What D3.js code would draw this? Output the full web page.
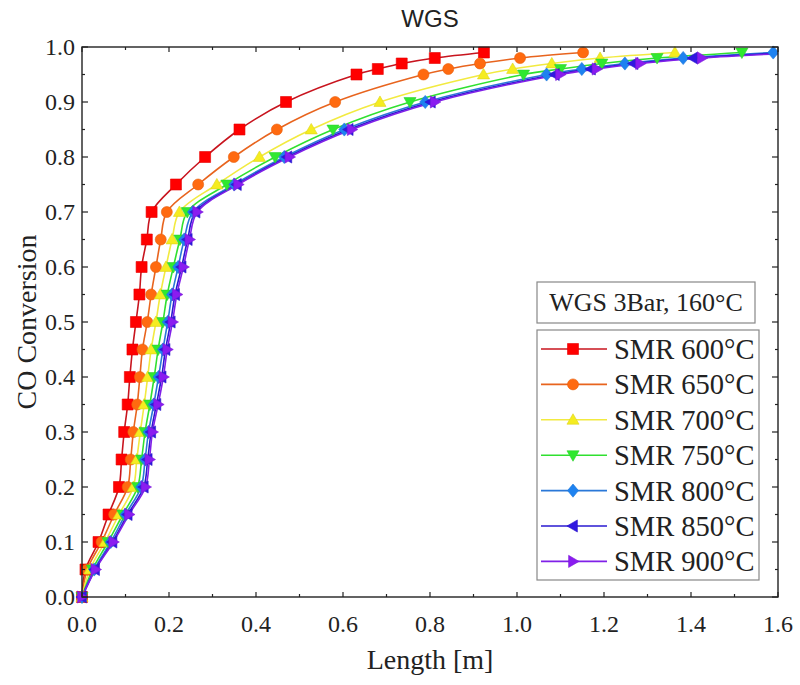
<!DOCTYPE html>
<html><head><meta charset="utf-8">
<script src="https://cdn.jsdelivr.net/npm/d3@7"></script>
<style>body{margin:0;background:#fff}svg{display:block}</style>
</head><body><svg id="c" width="800" height="685"></svg>
<script>
const conversion = [0,0.05,0.1,0.15,0.2,0.25,0.3,0.35,0.4,0.45,0.5,0.55,0.6,0.65,0.7,0.75,0.8,0.85,0.9,0.95,0.96,0.97,0.98,0.99];
const len600 = [0,0.008,0.038,0.061,0.085,0.091,0.097,0.105,0.110,0.116,0.124,0.132,0.137,0.149,0.160,0.216,0.283,0.362,0.469,0.631,0.680,0.735,0.811,0.924];
const len650 = [0,0.012,0.045,0.074,0.105,0.112,0.118,0.127,0.133,0.139,0.150,0.159,0.170,0.181,0.195,0.267,0.349,0.448,0.582,0.785,0.842,0.915,1.007,1.152];
const len700 = [0,0.018,0.053,0.085,0.118,0.126,0.134,0.143,0.151,0.159,0.170,0.180,0.193,0.207,0.224,0.310,0.408,0.527,0.685,0.923,0.990,1.080,1.191,1.363];
const len750 = [0,0.024,0.060,0.094,0.128,0.137,0.145,0.156,0.166,0.175,0.186,0.196,0.210,0.225,0.242,0.333,0.444,0.577,0.754,1.015,1.100,1.195,1.322,1.517];
const len800 = [0,0.028,0.066,0.100,0.136,0.145,0.153,0.165,0.176,0.186,0.197,0.207,0.221,0.235,0.255,0.350,0.465,0.603,0.789,1.068,1.149,1.248,1.382,1.589];
const len850 = [0,0.030,0.070,0.105,0.142,0.151,0.159,0.171,0.183,0.192,0.204,0.214,0.229,0.243,0.261,0.356,0.472,0.613,0.802,1.087,1.170,1.268,1.405,1.620];
const len900 = [0,0.031,0.072,0.108,0.146,0.155,0.162,0.175,0.187,0.196,0.208,0.218,0.233,0.247,0.265,0.359,0.477,0.620,0.811,1.099,1.183,1.283,1.425,1.660];
const seriesNames = ["SMR 600°C","SMR 650°C","SMR 700°C","SMR 750°C","SMR 800°C","SMR 850°C","SMR 900°C"];
const xTicks = [0,0.2,0.4,0.6,0.8,1.0,1.2,1.4,1.6];
const yTicks = [0,0.1,0.2,0.3,0.4,0.5,0.6,0.7,0.8,0.9,1.0];
const legendTitle = "WGS 3Bar, 160°C";

const lens = [len600,len650,len700,len750,len800,len850,len900];
const fills = ["#ff0000","#ff6a10","#f5ec20","#30e830","#1e82f0","#3018e0","#8a1cf0"];
const lines = ["#c8141e","#e8641e","#f2ea40","#30e030","#2a78d8","#2a1ad0","#8020e8"];
const shapes = ["square","circle","up","down","diamond","left","right"];

const svg = d3.select("#c");
const L=82, R=778, T=47, B=597;
const x = d3.scaleLinear().domain([0,1.6]).range([L,R]);
const y = d3.scaleLinear().domain([0,1]).range([B,T]);
const serif = "'Liberation Serif','Times New Roman',serif";

svg.append("defs").append("clipPath").attr("id","clip").append("rect")
  .attr("x",L-8).attr("y",T-8).attr("width",R-L+8).attr("height",B-T+16);

function markerPath(shape, s){
  const h=s/2;
  switch(shape){
    case "square": return `M${-h},${-h}H${h}V${h}H${-h}Z`;
    case "circle": return d3.symbol(d3.symbolCircle, Math.PI*h*h)();
    case "up": return `M0,${-h*1.1}L${h*1.1},${h*0.8}L${-h*1.1},${h*0.8}Z`;
    case "down": return `M0,${h*1.1}L${h*1.1},${-h*0.8}L${-h*1.1},${-h*0.8}Z`;
    case "diamond": return `M0,${-h*1.2}L${h*1.0},0L0,${h*1.2}L${-h*1.0},0Z`;
    case "left": return `M${-h*1.1},0L${h*0.8},${-h*1.1}L${h*0.8},${h*1.1}Z`;
    case "right": return `M${h*1.1},0L${-h*0.8},${-h*1.1}L${-h*0.8},${h*1.1}Z`;
  }
}

const g = svg.append("g").attr("clip-path","url(#clip)");
const line = d3.line().x(d=>x(d[0])).y(d=>y(d[1])).curve(d3.curveCatmullRom.alpha(0.5));
lens.forEach((arr,i)=>{
  const pts = arr.map((v,j)=>[v,conversion[j]]);
  g.append("path").attr("d",line(pts)).attr("fill","none").attr("stroke",lines[i]).attr("stroke-width",1.6);
});
lens.forEach((arr,i)=>{
  const pts = arr.map((v,j)=>[v,conversion[j]]);
  g.selectAll(null).data(pts).enter().append("path")
    .attr("transform",d=>`translate(${x(d[0])},${y(d[1])})`)
    .attr("d",markerPath(shapes[i],11))
    .attr("fill",fills[i]).attr("stroke",d3.color(fills[i]).darker(0.3)).attr("stroke-width",0.6);
});

// frame
svg.append("rect").attr("x",L).attr("y",T).attr("width",R-L).attr("height",B-T)
  .attr("fill","none").attr("stroke","#222").attr("stroke-width",1.4);

// ticks
const ax = svg.append("g").attr("stroke","#222").attr("stroke-width",1.2);
const xMinor = d3.range(0,1.61,0.1);
xMinor.forEach(v=>{
  const major = xTicks.some(t=>Math.abs(t-v)<1e-6);
  const len = major?5:3;
  ax.append("line").attr("x1",x(v)).attr("x2",x(v)).attr("y1",B).attr("y2",B-len);
  ax.append("line").attr("x1",x(v)).attr("x2",x(v)).attr("y1",T).attr("y2",T+len);
});
const yMinor = d3.range(0,1.001,0.05);
yMinor.forEach(v=>{
  const major = yTicks.some(t=>Math.abs(t-v)<1e-6);
  const len = major?6:3;
  ax.append("line").attr("y1",y(v)).attr("y2",y(v)).attr("x1",L).attr("x2",L+len);
  ax.append("line").attr("y1",y(v)).attr("y2",y(v)).attr("x1",R).attr("x2",R-len);
});

svg.append("g").selectAll("text").data(xTicks).enter().append("text")
  .attr("x",d=>x(d)).attr("y",B+35).attr("text-anchor","middle")
  .attr("font-family",serif).attr("font-size",24).attr("fill","#222")
  .text(d=>d3.format(".1f")(d));
svg.append("g").selectAll("text").data(yTicks).enter().append("text")
  .attr("x",L-7).attr("y",d=>y(d)+8).attr("text-anchor","end")
  .attr("font-family",serif).attr("font-size",24).attr("fill","#222")
  .text(d=>d3.format(".1f")(d));

svg.append("text").attr("x",(L+R)/2).attr("y",27).attr("text-anchor","middle")
  .attr("font-family","'Liberation Sans',Arial,sans-serif").attr("font-size",24).attr("fill","#222").text("WGS");
svg.append("text").attr("x",(L+R)/2).attr("y",669).attr("text-anchor","middle")
  .attr("font-family",serif).attr("font-size",28).attr("fill","#222").text("Length [m]");
svg.append("text").attr("transform",`translate(36,${(T+B)/2}) rotate(-90)`).attr("text-anchor","middle")
  .attr("font-family",serif).attr("font-size",28).attr("fill","#222").text("CO Conversion");

// legend
const lg = svg.append("g");
lg.append("rect").attr("x",537).attr("y",282).attr("width",218).attr("height",41)
  .attr("fill","#fff").attr("stroke","#888").attr("stroke-width",1.2);
lg.append("text").attr("x",646).attr("y",311).attr("text-anchor","middle")
  .attr("font-family",serif).attr("font-size",26).attr("fill","#222").text(legendTitle);
lg.append("rect").attr("x",537).attr("y",330).attr("width",222).attr("height",250)
  .attr("fill","#fff").attr("stroke","#888").attr("stroke-width",1.2);
seriesNames.forEach((n,i)=>{
  const cy = 349 + i*35.4;
  lg.append("line").attr("x1",541).attr("x2",607).attr("y1",cy).attr("y2",cy).attr("stroke",lines[i]).attr("stroke-width",1.6);
  lg.append("path").attr("transform",`translate(573,${cy})`).attr("d",markerPath(shapes[i],11))
    .attr("fill",fills[i]).attr("stroke",d3.color(fills[i]).darker(0.3)).attr("stroke-width",0.6);
  lg.append("text").attr("x",614).attr("y",cy+10).attr("font-family",serif).attr("font-size",28.5).attr("fill","#222").text(n);
});
</script></body></html>
